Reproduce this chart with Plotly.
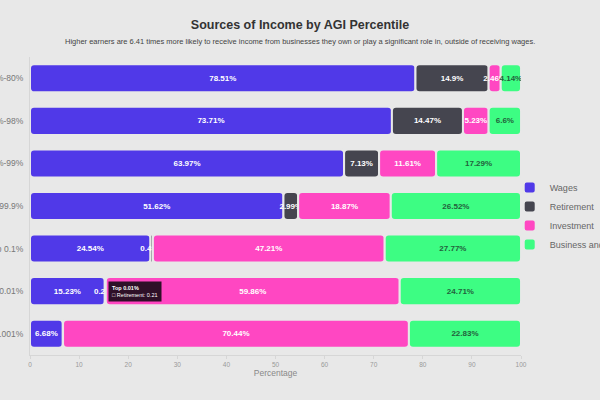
import plotly.graph_objects as go

categories = ["50%-80%", "80%-98%", "98%-99%", "99%-99.9%", "Top 0.1%", "Top 0.01%", "Top 0.001%"]
wages = [78.51, 73.71, 63.97, 51.62, 24.54, 15.23, 6.68]
retirement = [14.9, 14.47, 7.13, 2.99, 0.49, 0.21, 0.05]
investment = [2.46, 5.23, 11.61, 18.87, 47.21, 59.86, 70.44]
business = [4.14, 6.6, 17.29, 26.52, 27.77, 24.71, 22.83]

series = [
    ("Wages", wages, "#5039E8", "white"),
    ("Retirement", retirement, "#45454F", "white"),
    ("Investment", investment, "#FF47C2", "white"),
    ("Business and ownership", business, "#3DFD83", "#23613C"),
]

BG = "#E8E8E8"
fig = go.Figure()
base = [0.0] * len(categories)
for name, vals, color, tcolor in series:
    texts = [f"{v:g}%" if v >= 0.1 else "" for v in vals]
    fig.add_trace(go.Bar(
        name=name, y=categories, x=vals, base=list(base), orientation="h",
        marker=dict(color=color, line=dict(color=BG, width=2), cornerradius=4),
        text=texts, textposition="inside", insidetextanchor="middle", textangle=0,
        textfont=dict(color=tcolor, size=8, weight="bold",
                      family="Arial, Liberation Sans, sans-serif"),
        constraintext="none", hoverinfo="skip",
    ))
    base = [b + v for b, v in zip(base, vals)]

fig.update_layout(
    barmode="overlay", bargap=0.34,
    width=600, height=400,
    paper_bgcolor=BG, plot_bgcolor=BG,
    margin=dict(l=30, r=79, t=57, b=45, autoexpand=False),
    font=dict(family="Arial, Liberation Sans, sans-serif", color="#777"),
    uniformtext=dict(minsize=8, mode="show"),
    title=dict(text="<b>Sources of Income by AGI Percentile</b>", x=0.5, xref="container",
               y=1 - 25 / 400, yref="container", yanchor="middle",
               font=dict(size=12.5, color="#333")),
    legend=dict(x=0.977, y=(355 - 216) / 298, xanchor="left", yanchor="middle",
                font=dict(size=9, color="#666"), tracegroupgap=0,
                itemsizing="constant", bgcolor="rgba(0,0,0,0)"),
    xaxis=dict(range=[0, 100], dtick=10, showgrid=False, zeroline=False,
               showline=True, linecolor="#D6D6D6", linewidth=1,
               ticks="outside", ticklen=3, tickcolor="#D6D6D6",
               tickfont=dict(size=6.5, color="#999"),
               title=dict(text="Percentage", font=dict(size=8.5, color="#888"), standoff=2),
               automargin=False),
    yaxis=dict(categoryorder="array", categoryarray=categories, autorange="reversed",
               showgrid=False, zeroline=False, showline=True, linecolor="#D6D6D6",
               tickfont=dict(size=8.5, color="#777"), ticks="", automargin=False,
               ticklabelstandoff=4),
    annotations=[
        dict(text="Higher earners are 6.41 times more likely to receive income from businesses they own or play a significant role in, outside of receiving wages.",
             xref="paper", yref="paper", x=(300 - 30) / 491, y=(355 - 41) / 298,
             xanchor="center", yanchor="middle", showarrow=False,
             font=dict(size=7.5, color="#444")),
        dict(text="<b>Top 0.01%</b><br>□ Retirement: 0.21",
             xref="x", yref="y", x=15.9, y="Top 0.01%", xanchor="left", yanchor="middle",
             showarrow=False, align="left", bgcolor="rgba(30,12,28,0.93)",
             borderpad=3, font=dict(size=5.5, color="white")),
    ],
)

fig.write_html("out.html", config={"displayModeBar": False},
               post_script="document.body.style.margin='0';document.body.style.background='#E8E8E8';")
